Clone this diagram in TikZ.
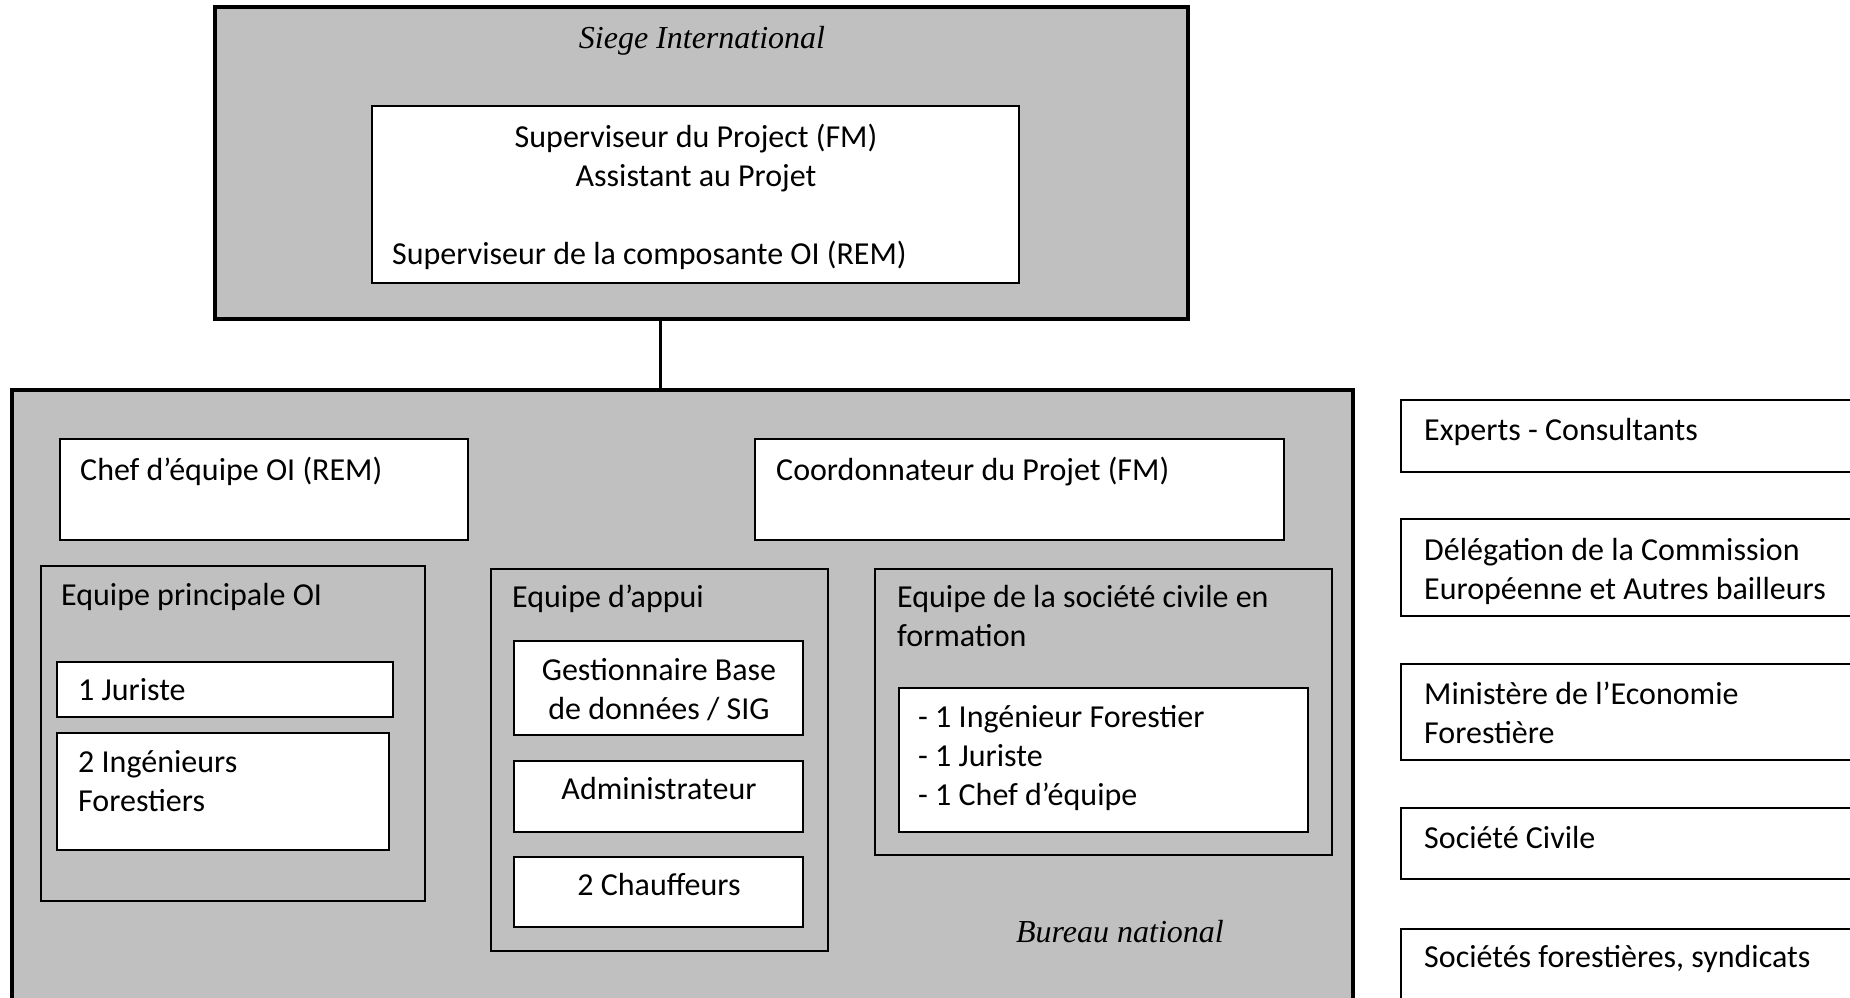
\documentclass[tikz,border=0pt]{standalone}
\usepackage{fontspec}
\setmainfont{Carlito}
\newfontfamily\capfont{Liberation Serif}
\definecolor{panelgray}{RGB}{192,192,192}
\tikzset{
  panel/.style={draw, fill=panelgray, line width=4pt, anchor=north west, inner sep=0pt, outer sep=0pt},
  team/.style={draw, fill=panelgray, line width=2pt, anchor=north west, inner sep=0pt, outer sep=0pt},
  card/.style={draw, fill=white, line width=2pt, anchor=north west, inner sep=0pt, outer sep=0pt},
  txt/.style={font=\fontsize{32pt}{39pt}\selectfont, inner sep=0pt, align=left},
  caption/.style={font=\fontsize{32pt}{39pt}\selectfont\capfont\itshape, inner sep=0pt},
  link/.style={line width=3pt}
}

\begin{document}
\begin{tikzpicture}[x=1pt, y=-1pt]
  \clip (0,0) rectangle (1850,997);

  % siege
  \node[panel, minimum width=973pt, minimum height=312pt] (siege) at (215,7) {};
  \node[card, minimum width=647pt, minimum height=177pt] (superv) at (372,106) {};
  \node[caption, anchor=base] (siegeT) at (702,48) {Siege International};
  % multi-line texts: base = last line
  \node[txt, align=center, anchor=base] (supervT) at (696,186) {Superviseur du Project (FM)\\Assistant au Projet};
  \node[txt, anchor=base west] (composT) at (392,264) {Superviseur de la composante OI (REM)};

  % bureau
  \node[panel, minimum width=1341pt, minimum height=640pt] (bureau) at (12,390) {};
  \coordinate (drop) at (660,0);
  \draw[link] (siege.south -| drop) -- (bureau.north -| drop);

  \node[card, minimum width=408pt, minimum height=101pt] (chef) at (60,439) {};
  \node[txt, anchor=base west] (chefT) at (80,480) {Chef d’équipe OI (REM)};
  \node[card, minimum width=529pt, minimum height=101pt] (coord) at (755,439) {};
  \node[txt, anchor=base west] (coordT) at (776,480) {Coordonnateur du Projet (FM)};

  \node[team, minimum width=384pt, minimum height=335pt] (princ) at (41,566) {};
  \node[txt, anchor=base west] (princT) at (61,605) {Equipe principale OI};
  \node[card, minimum width=336pt, minimum height=55pt] (jur) at (57,662) {};
  \node[txt, anchor=base west] (jurT) at (78,700) {1 Juriste};
  \node[card, minimum width=332pt, minimum height=117pt] (ing) at (57,733) {};
  \node[txt, anchor=base west] (ingT) at (78,811) {2 Ingénieurs\\Forestiers};

  \node[team, minimum width=337pt, minimum height=382pt] (appui) at (491,569) {};
  \node[txt, anchor=base west] (appuiT) at (512,607) {Equipe d’appui};
  \node[card, minimum width=289pt, minimum height=94pt] (gest) at (514,641) {};
  \node[txt, align=center, anchor=base] (gestT) at (659,719) {Gestionnaire Base\\de données / SIG};
  \node[card, minimum width=289pt, minimum height=71pt] (admin) at (514,761) {};
  \node[txt, anchor=base] (adminT) at (659,799) {Administrateur};
  \node[card, minimum width=289pt, minimum height=70pt] (chauf) at (514,857) {};
  \node[txt, anchor=base] (chaufT) at (659,895) {2 Chauffeurs};

  \node[team, minimum width=457pt, minimum height=286pt] (civ) at (875,569) {};
  \node[txt, anchor=base west] (civT) at (897,646) {Equipe de la société civile en\\formation};
  \node[card, minimum width=409pt, minimum height=144pt] (civm) at (899,688) {};
  \node[txt, anchor=base west] (civmT) at (918,805) {- 1 Ingénieur Forestier\\- 1 Juriste\\- 1 Chef d’équipe};

  \node[caption, anchor=base] (bureauT) at (1120,942) {Bureau national};

  % partenaires
  \node[card, minimum width=460pt, minimum height=72pt] (experts) at (1401,400) {};
  \node[txt, anchor=base west] (expertsT) at (1424,440) {Experts - Consultants};
  \node[card, minimum width=460pt, minimum height=97pt] (deleg) at (1401,519) {};
  \node[txt, anchor=base west] (delegT) at (1424,599) {Délégation de la Commission\\Européenne et Autres bailleurs};
  \node[card, minimum width=460pt, minimum height=96pt] (minist) at (1401,664) {};
  \node[txt, anchor=base west] (ministT) at (1424,743) {Ministère de l’Economie\\Forestière};
  \node[card, minimum width=460pt, minimum height=71pt] (civile) at (1401,808) {};
  \node[txt, anchor=base west] (civileT) at (1424,848) {Société Civile};
  \node[card, minimum width=460pt, minimum height=90pt] (forest) at (1401,929) {};
  \node[txt, anchor=base west] (forestT) at (1424,967) {Sociétés forestières, syndicats};
\end{tikzpicture}
\end{document}
